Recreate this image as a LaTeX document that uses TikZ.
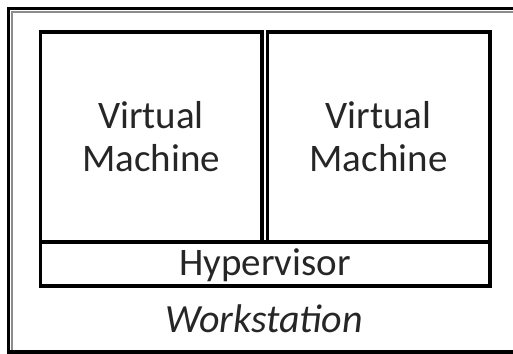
\documentclass[tikz,border=0pt]{standalone}
\usepackage{fontspec}
\setmainfont{Carlito}
\begin{document}
\begin{tikzpicture}[x=1pt,y=-1pt,
  frame/.style={draw=black,line width=3.6pt},
  shadowline/.style={draw=black!45,line width=1.5pt},
  lbl/.style={font=\fontsize{39}{43}\selectfont,align=center,text=black!85}]
\useasboundingbox (0,0) rectangle (513,353);
\clip (0,0) rectangle (513,353);
% outer workstation frame (cropped right and bottom)
\coordinate (wsTR) at (530,8.5);
\coordinate (wsTL) at (8.5,8.5);
\coordinate (wsBL) at (8.5,352);
\coordinate (wsBR) at (530,352);
\draw[shadowline] (12,352) -- (12,12) -- (530,12);
\draw[frame] (wsTR) -- (wsTL) -- (wsBL) -- (wsBR);
% shadows
\draw[shadowline] (490.5,33) -- (490.5,286.5) -- (41,286.5);
\draw[shadowline] (262.5,33) -- (262.5,238);
% boxes
\node[frame,minimum width=221.5pt,minimum height=209.5pt,anchor=north west,inner sep=0pt] (vm1) at (38.5,30.5) {};
\node[frame,minimum width=222.5pt,minimum height=209.5pt,anchor=north west,inner sep=0pt] (vm2) at (265.5,30.5) {};
\node[frame,minimum width=449.5pt,minimum height=44pt,anchor=north west,inner sep=0pt] (hv) at (38.5,240) {};
% labels
\node[lbl] (t1) at (vm1.center) {Virtual\\Machine};
\node[lbl] (t2) at (vm2.center) {Virtual\\Machine};
\node[lbl] (t3) at ([yshift=-1pt]hv.center) {Hypervisor};
\node[lbl,font=\fontsize{40}{43}\selectfont\itshape] (t4) at (264,319) {Workstation};
\end{tikzpicture}
\end{document}
